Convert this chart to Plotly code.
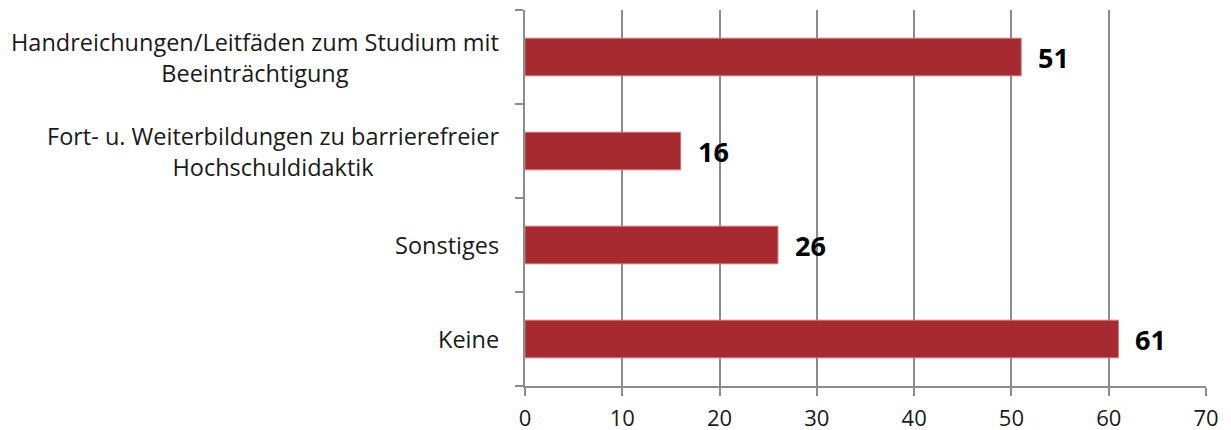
import plotly.graph_objects as go

categories = [
    "Handreichungen/Leitfäden zum Studium mit<br>Beeinträchtigung",
    "Fort- u. Weiterbildungen zu barrierefreier<br>Hochschuldidaktik",
    "Sonstiges",
    "Keine",
]
values = [51, 16, 26, 61]
x_ticks = [0, 10, 20, 30, 40, 50, 60, 70]

n = len(categories)
ypos = [n - 1 - i for i in range(n)]

FONT = "Open Sans"
BAR = "#A62A2F"
GRID = "#8C8C8C"

fig = go.Figure(go.Bar(
    x=values, y=ypos, orientation="h",
    marker=dict(color=BAR, line=dict(color="#C97A7C", width=1)),
    width=0.4, hoverinfo="skip",
))

ann = []
for c, v, y in zip(categories, values, ypos):
    ann.append(dict(x=0, xref="paper", y=y, yref="y", text=c, showarrow=False,
                    xanchor="right", yanchor="middle", align="center", xshift=-24,
                    font=dict(family=FONT, size=23.5, color="#1a1a1a")))
    ann.append(dict(x=v, xref="x", y=y, yref="y", text=f"<b>{v}</b>", showarrow=False,
                    xanchor="left", yanchor="middle", xshift=15,
                    font=dict(family=FONT, size=27, color="#000000")))

fig.update_layout(
    width=1231, height=430,
    margin=dict(l=525, r=25, t=10, b=44, autoexpand=False),
    plot_bgcolor="white", paper_bgcolor="white",
    showlegend=False,
    annotations=ann,
    xaxis=dict(range=[0, 70], tickvals=x_ticks, showgrid=True, gridcolor=GRID, gridwidth=1.5,
               showline=True, linecolor=GRID, linewidth=1.5, ticks="outside", ticklen=8,
               tickcolor=GRID, tickwidth=1.5, zeroline=False, ticklabelstandoff=4,
               automargin=False,
               tickfont=dict(family=FONT, size=22, color="#1a1a1a"), fixedrange=True),
    yaxis=dict(range=[-0.5, n - 0.5], tickvals=[i - 0.5 for i in range(n + 1)],
               ticktext=["" for _ in range(n + 1)], showgrid=False, zeroline=False,
               showline=True, linecolor=GRID, linewidth=1.5, ticks="outside", ticklen=8,
               tickcolor=GRID, tickwidth=1.5, fixedrange=True, automargin=False),
)

fig.write_html(
    "out.html",
    config={"displayModeBar": False},
    post_script="document.body.style.margin='0';document.body.style.overflow='hidden';",
)
